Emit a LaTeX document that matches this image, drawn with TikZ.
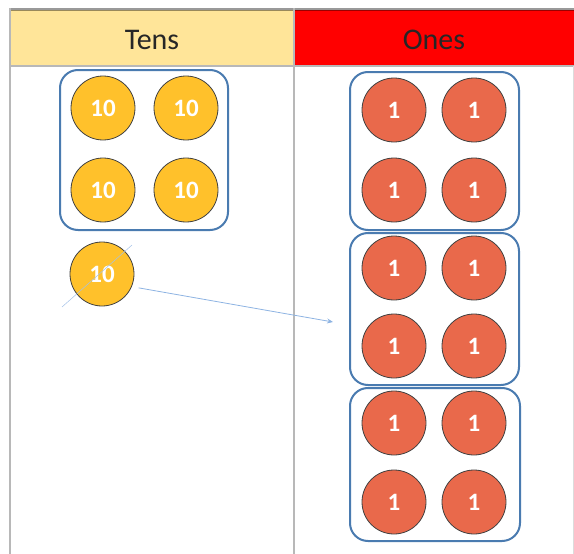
\documentclass[tikz,border=0pt]{standalone}
\usepackage{fontspec}
\setmainfont{Carlito}
\usetikzlibrary{arrows.meta}

\definecolor{tensgold}{HTML}{FFC12B}
\definecolor{onesred}{HTML}{E9694B}
\definecolor{groupblue}{HTML}{4A7BB0}
\definecolor{tenshead}{HTML}{FFE599}
\definecolor{arrowblue}{HTML}{8DB3E2}
\definecolor{gridgrey}{HTML}{B8B8B8}

\tikzset{
    counter/.style={circle, draw=black!75, line width=0.8pt, minimum size=64pt,
        inner sep=0pt, text=white, font=\bfseries\fontsize{25}{25}\selectfont},
    tenscounter/.style={counter, fill=tensgold},
    onescounter/.style={counter, fill=onesred},
    groupbox/.style={draw=groupblue, line width=2pt, rounded corners=18pt},
    headlabel/.style={font=\fontsize{30}{30}\selectfont, text=black!85}
}

\begin{document}
\begin{tikzpicture}[x=1pt, y=-1pt]
    \useasboundingbox (0,0) rectangle (574,554);

    % header row
    \fill[tenshead] (10,10) rectangle (294,66);
    \fill[red] (294,10) rectangle (574,66);
    \draw[black, opacity=0.4, line width=3pt] (10,9.5) -- (574,9.5);
    \node[headlabel] (tenshdr) at (152,40) {Tens};
    \node[headlabel] (oneshdr) at (434,40) {Ones};

    % grid lines
    \draw[gridgrey, line width=1.2pt] (10,66) -- (574,66);
    \draw[gridgrey, line width=1.5pt] (10,8) -- (10,554);
    \draw[gridgrey, line width=2.5pt] (294,8) -- (294,554);
    \draw[gridgrey!50, line width=1pt] (573,66) -- (573,554);

    % groups
    \draw[groupbox] (60,70) rectangle (228,230);
    \draw[groupbox] (350,72) rectangle (519,230);
    \draw[groupbox] (350,233) rectangle (519,385);
    \draw[groupbox] (350,388) rectangle (520,541);

    % tens counters
    \foreach \x/\y [count=\i] in {103/108, 186/108, 103/190, 186/190, 102/274}
        \node[tenscounter] (ten\i) at (\x,\y) {10};

    % ones counters
    \foreach \y [count=\r] in {110, 190, 268, 346, 423, 502} {
        \node[onescounter] (one\r a) at (394,\y) {1};
        \node[onescounter] (one\r b) at (474,\y) {1};
    }

    \coordinate (cutlow) at (62,307);
    \coordinate (cuthigh) at (132,245);
    \coordinate (drop) at (333,322);
    \draw[arrowblue!80, line width=0.5pt] (cutlow) -- (cuthigh);
    \draw[arrowblue, line width=0.8pt, -{Stealth[length=6pt, width=5pt]}, shorten <=7pt]
        (ten5.-23) -- (drop);
\end{tikzpicture}
\end{document}
